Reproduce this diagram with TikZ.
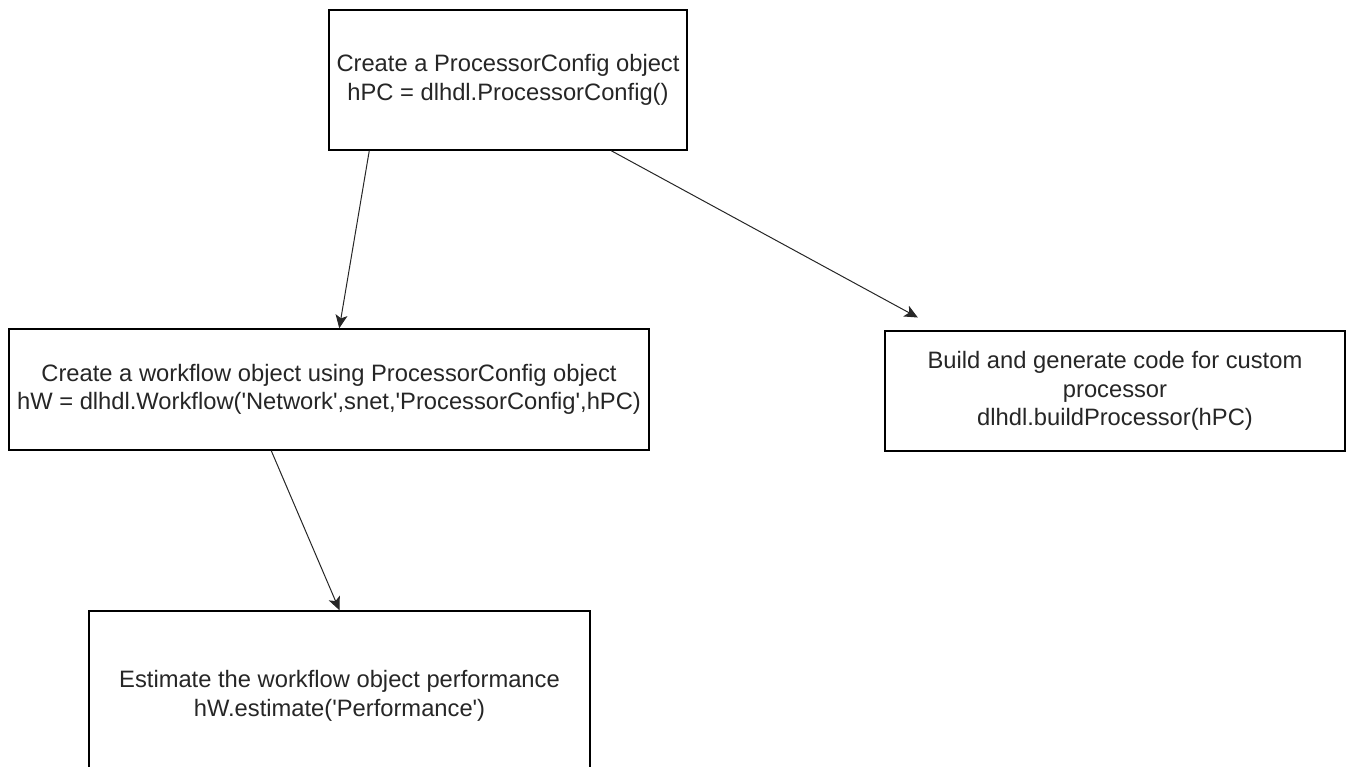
\documentclass[tikz,border=0pt]{standalone}
\usepackage{fontspec}
\setmainfont{Liberation Sans}
\usetikzlibrary{arrows.meta}
\newcommand{\sq}{\textquotesingle}
\begin{document}
\begin{tikzpicture}[x=0.75pt,y=-0.75pt,
  box/.style={draw=black, line width=1.1pt, fill=white, align=center, inner sep=0pt,
    text=black!85, font=\fontsize{17.8}{21.4}\selectfont},
  conn/.style={draw=black!85, line width=0.75pt,
    -{Stealth[length=10pt,width=9pt,inset=2.5pt]}}]
\useasboundingbox (0,0) rectangle (1347,767);
\clip (0,0) rectangle (1347,767);
\node[box, minimum width=268.5pt, minimum height=105pt] (b1) at (508,80)
  {Create a ProcessorConfig object\\hPC = dlhdl.ProcessorConfig()};
\node[box, minimum width=480pt, minimum height=90.75pt] (b2) at (329,389.5)
  {Create a workflow object using ProcessorConfig object\\hW = dlhdl.Workflow(\sq Network\sq,snet,\sq ProcessorConfig\sq,hPC)};
\node[box, minimum width=345pt, minimum height=90pt] (b3) at (1115,391)
  {Build and generate code for custom\\processor\\dlhdl.buildProcessor(hPC)};
\node[box, minimum width=375.75pt, minimum height=127.5pt] (b4) at (339.5,696)
  {Estimate the workflow object performance\\hW.estimate(\sq Performance\sq)};
\draw[conn] ([xshift=30.75pt]b1.south west) -- ([xshift=248.25pt]b2.north west);
\draw[conn, shorten >=20pt] ([xshift=212.25pt]b1.south west) -- ([xshift=42.75pt]b3.north west);
\draw[conn] ([xshift=197.25pt]b2.south west) -- (b4.north);
\end{tikzpicture}
\end{document}
